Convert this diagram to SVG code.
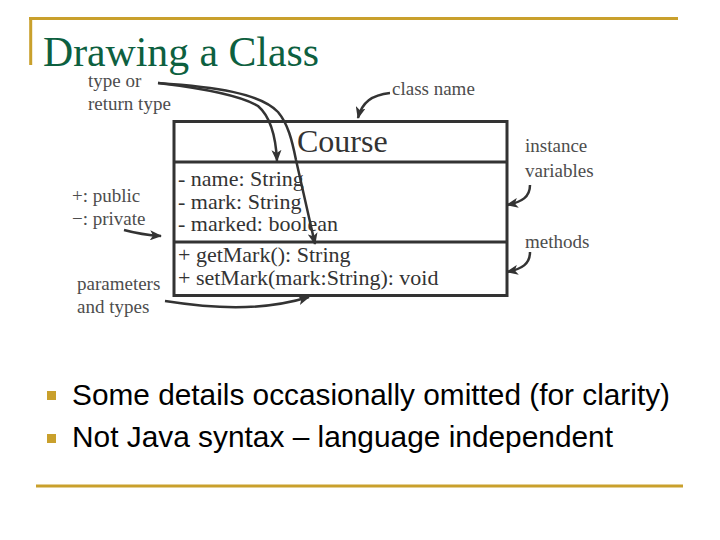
<svg xmlns="http://www.w3.org/2000/svg" width="720" height="540" viewBox="0 0 720 540">
<style>
.gold{stroke:#c9a02c;stroke-width:3;fill:none}
.title{font-family:"Liberation Serif",serif;font-size:42px;fill:#0d6040}
.note{font-family:"Liberation Serif",serif;font-size:19px;fill:#4d4d4d}
.cls{font-family:"Liberation Serif",serif;font-size:22px;fill:#333}
.cname{font-family:"Liberation Serif",serif;font-size:32px;fill:#333}
.bullet{font-family:"Liberation Sans",Arial,sans-serif;font-size:30px;fill:#000}
.box{fill:none;stroke:#333;stroke-width:3}
.arr{fill:none;stroke:#333;stroke-width:2.5;marker-end:url(#ah)}
</style>
<defs>
<marker id="ah" markerUnits="userSpaceOnUse" markerWidth="12" markerHeight="10" refX="11" refY="5" orient="auto">
<path d="M0,0 L12,5 L0,10 L3,5 z" fill="#333"/>
</marker>
</defs>
<rect width="720" height="540" fill="#fff"/>
<g id="frame">
<path class="gold" d="M29,18.5 H678 M30.7,18 V65"/>
<path class="gold" d="M36,486 H683"/>
<text class="title" x="43" y="66" textLength="276" lengthAdjust="spacingAndGlyphs">Drawing a Class</text>
</g>
<g id="class-course">
<rect class="box" x="174" y="121.5" width="333" height="174"/>
<line class="box" x1="174" y1="162" x2="507" y2="162"/>
<line class="box" x1="174" y1="242" x2="507" y2="242"/>
<text class="cname" x="297" y="152">Course</text>
<text class="cls" x="178" y="186">- name: String</text>
<text class="cls" x="178" y="209">- mark: String</text>
<text class="cls" x="178" y="231">- marked: boolean</text>
<text class="cls" x="178" y="262">+ getMark(): String</text>
<text class="cls" x="178" y="285">+ setMark(mark:String): void</text>
</g>
<g id="label-type">
<text class="note" x="88" y="87">type or</text>
<text class="note" x="88" y="110">return type</text>
</g>
<g id="label-classname">
<text class="note" x="392" y="95">class name</text>
</g>
<g id="label-instance">
<text class="note" x="525" y="152">instance</text>
<text class="note" x="525" y="177">variables</text>
</g>
<g id="label-methods">
<text class="note" x="525" y="248">methods</text>
</g>
<g id="label-visibility">
<text class="note" x="72" y="202">+: public</text>
<text class="note" x="72" y="225">−: private</text>
</g>
<g id="label-params">
<text class="note" x="77" y="290">parameters</text>
<text class="note" x="77" y="313">and types</text>
</g>
<g id="connectors">
<path class="arr" d="M158,83 C200,88 240,95 258,106 C272,118 276,140 277,161"/>
<path class="arr" d="M158,83 C215,87 260,93 278,112 C288,124 292,140 296,160 L315,244"/>
<path class="arr" d="M390,93 C372,95 362,102 358,118"/>
<path class="arr" d="M530,185 C530,197 522,202 507,205"/>
<path class="arr" d="M530,252 C530,264 522,269 507,272"/>
<path class="arr" d="M124,230 C135,233 145,235 161,236"/>
<path class="arr" d="M165,301 C210,308 260,312 309,297"/>
</g>
<g id="bullets">
<rect x="47" y="391" width="9" height="9" fill="#c9a02c"/>
<rect x="47" y="434" width="9" height="9" fill="#c9a02c"/>
<text class="bullet" x="72" y="405" textLength="598" lengthAdjust="spacingAndGlyphs">Some details occasionally omitted (for clarity)</text>
<text class="bullet" x="72" y="447" textLength="541" lengthAdjust="spacingAndGlyphs">Not Java syntax – language independent</text>
</g>
</svg>
